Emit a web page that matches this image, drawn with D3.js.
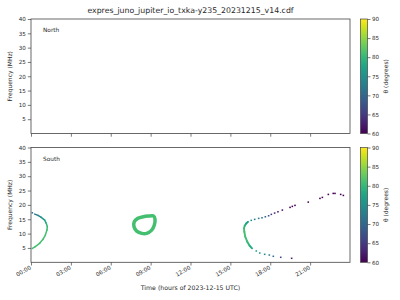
<!DOCTYPE html>
<html>
<head>
<meta charset="utf-8">
<script src="https://cdn.jsdelivr.net/npm/d3@7"></script>
<style>
  html, body { margin: 0; padding: 0; background: #fff; }
  svg { display: block; font-family: "DejaVu Sans", sans-serif; }
</style>
</head>
<body>
<svg id="chart" width="400" height="300"></svg>
<script>
// ---------------- data ----------------
const title = "expres_juno_jupiter_io_txka-y235_20231215_v14.cdf";
const panelNames = ["North", "South"];
const hourTicks = [0, 3, 6, 9, 12, 15, 18, 21];
const hourTickLabels = ["00:00", "03:00", "06:00", "09:00", "12:00", "15:00", "18:00", "21:00"];
const freqTicks = [5, 10, 15, 20, 25, 30, 35, 40];
const thetaTicks = [60, 65, 70, 75, 80, 85, 90];

// South hemisphere: left arc (continuous part)
const leftTrackT     = [0.28, 0.53, 0.77, 1.03, 1.15, 1.23, 1.20, 1.08, 0.90, 0.65, 0.32, 0.08];
const leftTrackF     = [16.80, 16.35, 15.65, 14.71, 13.57, 12.38, 11.23, 9.50, 8.00, 6.61, 5.43, 4.73];
const leftTrackTheta = [71, 73, 75, 77, 79, 80, 81, 81, 81, 81, 81, 81];
// left arc isolated dots
const leftDotsT     = [0.10];
const leftDotsF     = [17.25];
const leftDotsTheta = [70];

// South hemisphere: ring around 08:00-09:30
const ringT     = [8.83, 9.20, 9.33, 9.28, 9.08, 8.70, 8.33, 7.95, 7.75, 7.77, 8.03, 8.45];
const ringF     = [16.10, 16.20, 15.06, 12.97, 11.23, 10.09, 10.09, 10.89, 12.38, 14.12, 15.30, 15.86];
const ringTheta = [79, 79, 80, 81, 82, 82, 82, 82, 81, 80, 79, 79];

// South hemisphere: right arc (continuous part around the turning point)
const rightTrackT     = [16.63, 16.45, 16.27, 16.12, 16.05, 16.025, 16.08, 16.20, 16.33];
const rightTrackF     = [4.87, 5.77, 7.17, 8.90, 10.64, 11.83, 12.73, 13.57, 14.12];
const rightTrackTheta = [78, 79, 80, 81, 81, 81, 80, 78, 76];
// right arc isolated dots
const rightDotsT = [19.61, 18.79, 18.23, 17.93, 17.58, 17.21, 16.95,
                    16.57, 16.83, 17.13, 17.38, 17.63, 17.88, 18.08, 18.33, 18.58, 18.91,
                    19.49, 19.66, 19.86, 20.86, 21.74, 21.92, 22.37, 22.74, 22.87, 23.30, 23.50];
const rightDotsF = [1.39, 1.74, 2.09, 2.54, 2.78, 3.23, 3.93,
                    14.61, 14.96, 15.30, 15.51, 15.86, 16.21, 16.70, 17.15, 17.60, 18.19,
                    19.13, 19.48, 19.83, 20.97, 22.26, 22.61, 23.65, 24.00, 24.00, 23.65, 23.30];
const rightDotsTheta = [62, 66, 70, 72, 74, 76, 77,
                        75, 73, 72, 71, 69, 67, 65, 63, 62, 61,
                        60, 60, 60, 60, 60, 60, 60, 60, 60, 60, 60];

// ---------------- layout ----------------
const svg = d3.select("#chart");
const W = 400, H = 300;
const X0 = 31, X1 = 350;
const panels = [{ y0: 19, y1: 133.5 }, { y0: 147.5, y1: 262.3 }];
const CB0 = 360.5, CB1 = 367.5;
const textColor = "#2a2a2a";
const frameColor = "#444";

const x = d3.scaleLinear().domain([0, 24]).range([X0, X1]);
const color = d3.scaleSequential(d3.interpolateViridis).domain([60, 90]);

svg.append("rect").attr("width", W).attr("height", H).attr("fill", "#fff");

svg.append("text")
  .attr("x", (X0 + X1) / 2).attr("y", 13)
  .attr("text-anchor", "middle")
  .attr("font-size", 7.8).attr("fill", textColor)
  .text(title);

// gradient for colorbar
const defs = svg.append("defs");
const grad = defs.append("linearGradient").attr("id", "viridisGrad")
  .attr("x1", 0).attr("y1", 1).attr("x2", 0).attr("y2", 0);
d3.range(0, 1.0001, 0.05).forEach(s => {
  grad.append("stop").attr("offset", s).attr("stop-color", d3.interpolateViridis(s));
});

function styleAxis(g) {
  g.select(".domain").remove();
  g.selectAll(".tick line").attr("stroke", frameColor).attr("stroke-width", 0.7);
  g.selectAll(".tick text").attr("fill", textColor).attr("font-size", 5.6)
    .attr("font-family", "DejaVu Sans, sans-serif");
}

panels.forEach((p, i) => {
  const y = d3.scaleLinear().domain([0, 40]).range([p.y1, p.y0]);
  p.y = y;
  const g = svg.append("g");

  const ya = g.append("g").attr("transform", `translate(${X0},0)`)
    .call(d3.axisLeft(y).tickValues(freqTicks).tickSize(3.2).tickPadding(2));
  styleAxis(ya);

  const xa = g.append("g").attr("transform", `translate(0,${p.y1})`)
    .call(d3.axisBottom(x).tickValues(hourTicks).tickSize(3.2)
      .tickFormat((d, k) => i === 1 ? hourTickLabels[k] : ""));
  styleAxis(xa);
  if (i === 1) {
    xa.selectAll(".tick text")
      .attr("text-anchor", "end")
      .attr("dy", 0)
      .attr("transform", "translate(0,6.5) rotate(-30)")
      .attr("y", 0).attr("x", 0);
  }

  g.append("rect").attr("x", X0).attr("y", p.y0)
    .attr("width", X1 - X0).attr("height", p.y1 - p.y0)
    .attr("fill", "none").attr("stroke", frameColor).attr("stroke-width", 0.8);

  g.append("text").attr("x", 43).attr("y", i === 0 ? 32 : 160.5)
    .attr("font-size", 5.8).attr("fill", textColor).text(panelNames[i]);

  g.append("text")
    .attr("transform", `translate(11.5,${(p.y0 + p.y1) / 2}) rotate(-90)`)
    .attr("text-anchor", "middle").attr("font-size", 6)
    .attr("fill", textColor).text("Frequency (MHz)");

  const cy = d3.scaleLinear().domain([60, 90]).range([p.y1, p.y0]);
  g.append("rect").attr("x", CB0).attr("y", p.y0)
    .attr("width", CB1 - CB0).attr("height", p.y1 - p.y0)
    .attr("fill", "url(#viridisGrad)")
    .attr("stroke", frameColor).attr("stroke-width", 0.7);
  const ca = g.append("g").attr("transform", `translate(${CB1},0)`)
    .call(d3.axisRight(cy).tickValues(thetaTicks).tickSize(3).tickPadding(1.5));
  styleAxis(ca);
  g.append("text")
    .attr("transform", `translate(388,${(p.y0 + p.y1) / 2}) rotate(-90)`)
    .attr("text-anchor", "middle").attr("font-size", 6)
    .attr("fill", textColor).text("θ (degrees)");
});

svg.append("text").attr("x", (X0 + X1) / 2).attr("y", 290)
  .attr("text-anchor", "middle").attr("font-size", 6.2)
  .attr("fill", textColor).text("Time (hours of 2023-12-15 UTC)");

// ---------------- data marks (South panel) ----------------
const ys = panels[1].y;
const marks = svg.append("g");

function drawTrack(T, F, TH, width) {
  for (let k = 0; k < T.length - 1; k++) {
    marks.append("line")
      .attr("x1", x(T[k])).attr("y1", ys(F[k]))
      .attr("x2", x(T[k + 1])).attr("y2", ys(F[k + 1]))
      .attr("stroke", color((TH[k] + TH[k + 1]) / 2))
      .attr("stroke-width", width).attr("stroke-linecap", "round");
  }
}
function drawDots(T, F, TH) {
  T.forEach((t, k) => {
    marks.append("rect")
      .attr("x", x(t) - 0.8).attr("y", ys(F[k]) - 0.75)
      .attr("width", 1.6).attr("height", 1.5)
      .attr("fill", color(TH[k]));
  });
}

const ringPts = ringT.map((t, k) => [x(t), ys(ringF[k])]);
const ringMean = d3.mean(ringTheta);
marks.append("path")
  .attr("d", d3.line().curve(d3.curveCardinalClosed.tension(0.3))(ringPts))
  .attr("fill", "none")
  .attr("stroke", color(ringMean + 0.5))
  .attr("stroke-width", 3.5);

drawTrack(leftTrackT, leftTrackF, leftTrackTheta, 1.5);
drawDots(leftDotsT, leftDotsF, leftDotsTheta);
drawTrack(rightTrackT, rightTrackF, rightTrackTheta, 1.9);
drawDots(rightDotsT, rightDotsF, rightDotsTheta);
</script>
</body>
</html>
